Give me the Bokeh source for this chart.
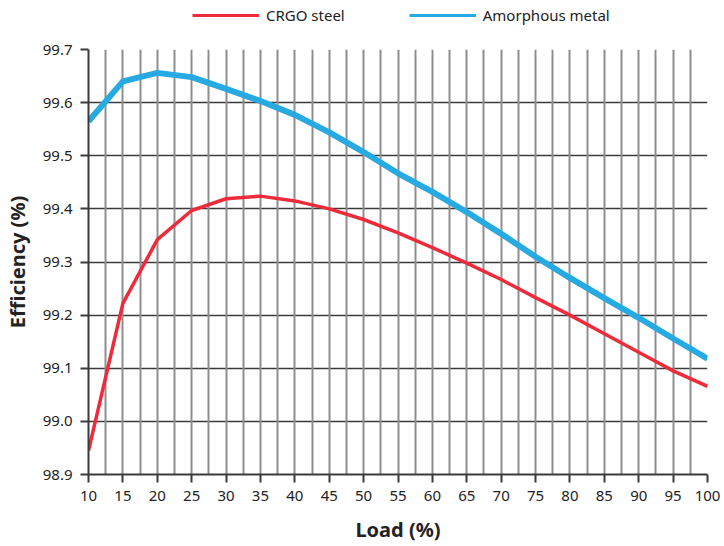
from bokeh.plotting import figure
from bokeh.models import (Range1d, FixedTicker, PrintfTickFormatter, Legend, LegendItem, Grid)
from bokeh.layouts import column
from bokeh.embed import file_html
from bokeh.resources import INLINE

load = [10, 15, 20, 25, 30, 35, 40, 45, 50, 55, 60, 65, 70, 75, 80, 85, 90, 95, 100]
crgo = [98.945, 99.222, 99.342, 99.397, 99.419, 99.424, 99.415, 99.400, 99.380, 99.355,
        99.327, 99.298, 99.267, 99.233, 99.200, 99.165, 99.130, 99.095, 99.066]
amorph = [99.565, 99.640, 99.656, 99.648, 99.626, 99.603, 99.577, 99.544, 99.507, 99.467,
          99.432, 99.394, 99.353, 99.310, 99.270, 99.232, 99.195, 99.156, 99.118]
x_ticks = list(range(10, 101, 5))
x_grid = [10 + 2.5 * i for i in range(37)]
y_ticks = [98.9, 99.0, 99.1, 99.2, 99.3, 99.4, 99.5, 99.6, 99.7]
series_names = ["CRGO steel", "Amorphous metal"]

FONT = "Noto Sans"
RED = "#EE2B3B"
BLUE = "#27AAE1"
LEG_H = 30
FIG_W = 82 + 619 + 14

# ---------- legend strip (series drawn out of its visible range; only the legend shows) ----------
lf = figure(width=FIG_W, height=LEG_H, output_backend="svg", toolbar_location=None,
            x_range=Range1d(10, 100), y_range=Range1d(0, 1),
            min_border=0, x_axis_location=None, y_axis_location=None)
lf.outline_line_color = None
lf.xgrid.visible = False
lf.ygrid.visible = False
l1 = lf.line(load, crgo, line_color=RED, line_width=3)
l2 = lf.line(load, amorph, line_color=BLUE, line_width=3)
legend = Legend(items=[LegendItem(label=series_names[0], renderers=[l1]),
                       LegendItem(label=series_names[1], renderers=[l2])],
                orientation="horizontal", location=(104, 5),
                border_line_color=None, background_fill_alpha=0,
                glyph_width=67, glyph_height=20, label_standoff=7, spacing=64,
                label_text_font=FONT, label_text_font_size="15px",
                label_text_color="#222222", margin=0, padding=6, label_height=20)
lf.add_layout(legend)

# ---------- main chart ----------
p = figure(frame_width=619, frame_height=425, output_backend="svg", toolbar_location=None,
           x_range=Range1d(10, 100), y_range=Range1d(98.9, 99.7),
           min_border_left=82, min_border_right=14, min_border_top=49 - LEG_H,
           min_border_bottom=63)
p.outline_line_color = None
p.background_fill_color = "white"

p.xgrid.visible = False
p.ygrid.ticker = FixedTicker(ticks=y_ticks)
p.ygrid.grid_line_color = "#3a3a3a"
p.ygrid.grid_line_width = 1.5
vg = Grid(dimension=0, ticker=FixedTicker(ticks=x_grid), grid_line_color="#8e8e8e", grid_line_width=2)
p.add_layout(vg)

for ax in (p.xaxis[0], p.yaxis[0]):
    ax.axis_line_color = "#3a3a3a"
    ax.axis_line_width = 2
    ax.major_tick_line_color = "#3a3a3a"
    ax.major_tick_line_width = 2
    ax.major_tick_out = 8
    ax.major_tick_in = 0
    ax.minor_tick_line_color = None
    ax.major_label_text_font = FONT
    ax.major_label_text_font_size = "15px"
    ax.major_label_text_color = "#222222"
    ax.axis_label_text_font = FONT
    ax.axis_label_text_font_style = "bold"
    ax.axis_label_text_font_size = "20px"
    ax.axis_label_text_color = "#222222"

p.xaxis.ticker = FixedTicker(ticks=x_ticks)
p.xaxis.axis_label = "Load (%)"
p.xaxis.major_label_standoff = 8
p.xaxis.axis_label_standoff = 12
p.yaxis.ticker = FixedTicker(ticks=y_ticks)
p.yaxis.formatter = PrintfTickFormatter(format="%.1f")
p.yaxis.axis_label = "Efficiency (%)"
p.yaxis.major_label_standoff = 8
p.yaxis.axis_label_standoff = 9

p.line(load, crgo, line_color=RED, line_width=3.5)
p.line(load, amorph, line_color=BLUE, line_width=6)

layout = column(lf, p, spacing=0)
open("out.html", "w").write(file_html(layout, INLINE))
